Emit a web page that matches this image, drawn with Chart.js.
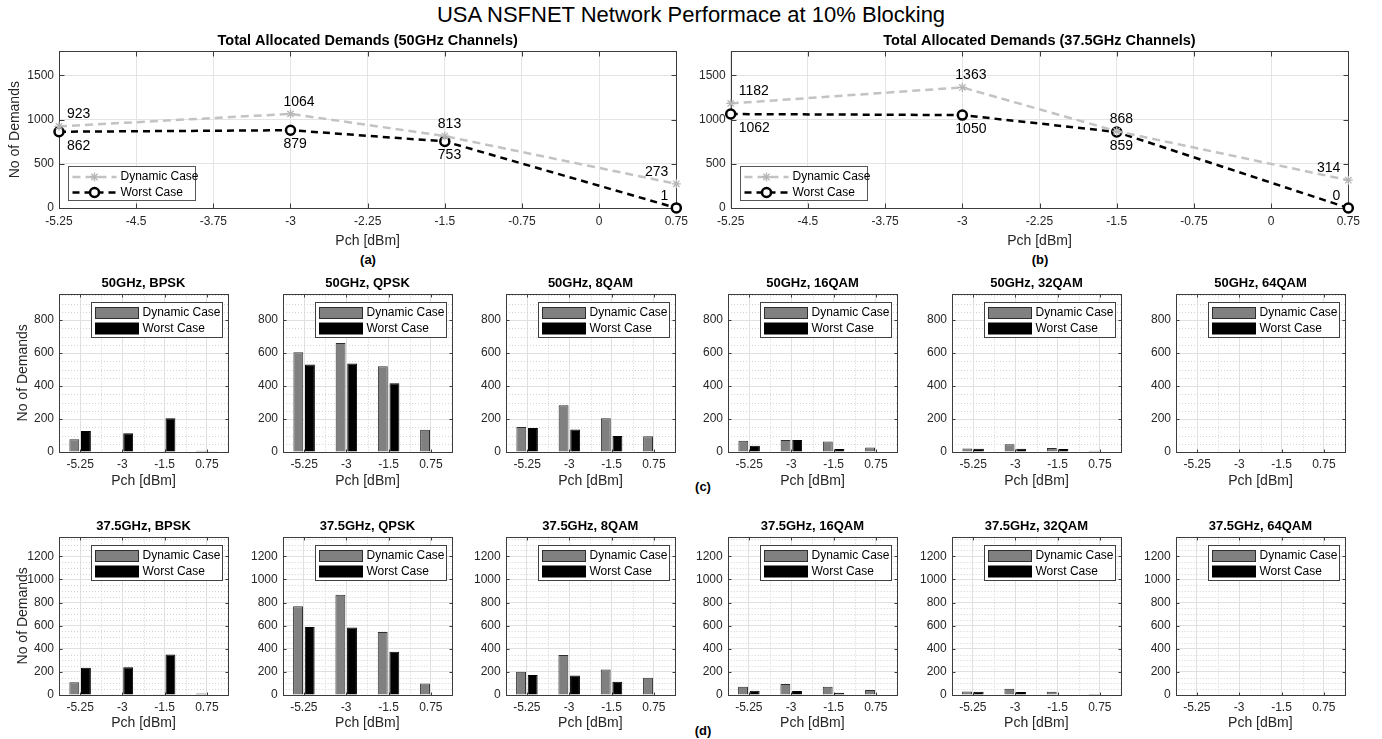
<!DOCTYPE html>
<html>
<head>
<meta charset="utf-8">
<title>USA NSFNET Network Performace at 10% Blocking</title>
<script src="https://cdn.jsdelivr.net/npm/chart.js@4.4.1/dist/chart.umd.min.js"></script>
<style>
  body { margin: 0; width: 1382px; height: 739px; background: #fff; position: relative; overflow: hidden;
         font-family: 'Liberation Sans', Arial, Helvetica, sans-serif; }
  canvas { position: absolute; }
  .lbl { position: absolute; transform: translate(-50%, -50%); white-space: nowrap; color: #000; }
  #mainTitle { left: 691px; top: 15px; font-size: 22px; }
  .panel { font-size: 13px; font-weight: bold; }
</style>
</head>
<body>
<div id="mainTitle" class="lbl">USA NSFNET Network Performace at 10% Blocking</div>
<div class="lbl panel" style="left:368px; top:259px">(a)</div>
<div class="lbl panel" style="left:1040px; top:259px">(b)</div>
<div class="lbl panel" style="left:703px; top:486px">(c)</div>
<div class="lbl panel" style="left:703px; top:730px">(d)</div>

<script>
// launch power points (x axis)
const pchValues = [-5.25, -3, -1.5, 0.75];
const pchLabels = ['-5.25', '-3', '-1.5', '0.75'];
const lineTicks = [-5.25, -4.5, -3.75, -3, -2.25, -1.5, -0.75, 0, 0.75];
const lineTickLabels = ['-5.25', '-4.5', '-3.75', '-3', '-2.25', '-1.5', '-0.75', '0', '0.75'];
const totalYTicks = [0, 500, 1000, 1500];
const barYTicks50 = [0, 200, 400, 600, 800];
const barYTicks375 = [0, 200, 400, 600, 800, 1000, 1200];

// total allocated demands
const total50Dynamic = [923, 1064, 813, 273];
const total50Worst = [862, 879, 753, 1];
const total375Dynamic = [1182, 1363, 868, 314];
const total375Worst = [1062, 1050, 859, 0];

// demands per modulation format, one row per format, values at -5.25, -3, -1.5, 0.75
const formats = ['BPSK', 'QPSK', '8QAM', '16QAM', '32QAM', '64QAM'];
const dyn50 = [
  [77, 1, 1, 7], [605, 660, 520, 135], [152, 284, 204, 95],
  [68, 72, 63, 28], [21, 47, 25, 8], [0, 0, 0, 0]
];
const worst50 = [
  [128, 113, 204, 1], [530, 537, 416, 0], [146, 137, 97, 0],
  [38, 72, 18, 0], [20, 20, 18, 0], [0, 0, 0, 0]
];
const dyn375 = [
  [110, 2, 2, 12], [768, 868, 545, 100], [202, 345, 220, 150],
  [72, 95, 72, 44], [30, 53, 29, 8], [0, 0, 0, 0]
];
const worst375 = [
  [236, 240, 350, 0], [588, 583, 375, 0], [174, 168, 115, 0],
  [36, 34, 19, 0], [28, 25, 0, 0], [0, 0, 0, 0]
];

Chart.defaults.font.family = "'Liberation Sans', Arial, Helvetica, sans-serif";
Chart.defaults.font.size = 12;
Chart.defaults.color = '#262626';

// plot boxes on the page
const topBoxes = [{ x: 59, y: 51, w: 617, h: 157 }, { x: 731, y: 51, w: 618, h: 157 }];
const barLefts = [59, 283, 506, 728, 952, 1176];
const barWidth = 169;

function strokeLine(ctx, x1, y1, x2, y2) {
  ctx.beginPath(); ctx.moveTo(x1, y1); ctx.lineTo(x2, y2); ctx.stroke();
}
const snap = v => Math.round(v) + 0.5;

// box, inward ticks and dotted minor grid
const framePlugin = {
  id: 'frame',
  beforeDatasetsDraw(chart, args, opts) {
    const { ctx, chartArea: a } = chart;
    const xs = chart.scales.x, ys = chart.scales.y;
    const xPix = xs.ticks.map((t, i) => xs.getPixelForTick(i));
    const yPix = ys.ticks.map((t, i) => ys.getPixelForTick(i));
    ctx.save();
    if (opts.minor) {
      ctx.strokeStyle = '#d2d2d2'; ctx.lineWidth = 1; ctx.setLineDash([1, 2]);
      for (let v = opts.minor; v < ys.max; v += opts.minor) {
        if (ys.ticks.some(t => t.value === v)) continue;
        const py = snap(ys.getPixelForValue(v));
        strokeLine(ctx, a.left, py, a.right, py);
      }
      for (let i = 1; i < xPix.length; i++) {
        const px = snap((xPix[i - 1] + xPix[i]) / 2);
        strokeLine(ctx, px, a.top, px, a.bottom);
      }
      ctx.setLineDash([]);
    }
    ctx.strokeStyle = '#3c3c3c'; ctx.lineWidth = 1;
    const L = snap(a.left), R = snap(a.right), T = snap(a.top), B = snap(a.bottom);
    ctx.strokeRect(L, T, R - L, B - T);
    const len = opts.tickLen || 4;
    xPix.forEach(p => { const px = snap(p); strokeLine(ctx, px, B, px, B - len); strokeLine(ctx, px, T, px, T + len); });
    yPix.forEach(p => { const py = snap(p); strokeLine(ctx, L, py, L + len, py); strokeLine(ctx, R, py, R - len, py); });
    ctx.restore();
  }
};

// numbers next to the points of the total charts
const valueLabelPlugin = {
  id: 'valueLabels',
  afterDatasetsDraw(chart) {
    const ctx = chart.ctx;
    ctx.save();
    ctx.font = "14px 'Liberation Sans', Arial, sans-serif";
    ctx.fillStyle = '#000';
    ctx.textBaseline = 'middle';
    chart.data.datasets.forEach((ds, di) => {
      const meta = chart.getDatasetMeta(di);
      meta.data.forEach((pt, i) => {
        const last = i === meta.data.length - 1;
        const above = di === 0 || last;
        const y = pt.y + (above ? -12 : 14);
        let x;
        if (i === 0) { ctx.textAlign = 'left'; x = pt.x + 8; }
        else if (last) { ctx.textAlign = 'right'; x = pt.x - 8; }
        else { ctx.textAlign = 'left'; x = pt.x - 7; }
        ctx.fillText(String(ds.data[i].y), x, y);
      });
    });
    ctx.restore();
  }
};

const lineLegendPlugin = {
  id: 'lineLegend',
  afterDraw(chart) {
    const { ctx, chartArea: a } = chart;
    const x0 = snap(a.left + 9), y0 = snap(a.bottom - 42), w = 127, h = 34;
    ctx.save();
    ctx.fillStyle = '#fff'; ctx.fillRect(x0, y0, w, h);
    ctx.strokeStyle = '#555'; ctx.lineWidth = 1; ctx.strokeRect(x0, y0, w, h);
    chart.data.datasets.forEach((ds, i) => {
      const yy = y0 + 10.5 + i * 15.5;
      ctx.strokeStyle = ds.borderColor; ctx.lineWidth = ds.borderWidth;
      ctx.setLineDash(ds.borderDash);
      strokeLine(ctx, x0 + 4, yy, x0 + 48, yy);
      ctx.setLineDash([]);
      ctx.fillStyle = ds.pointBackgroundColor; ctx.strokeStyle = ds.pointBorderColor;
      ctx.lineWidth = ds.pointBorderWidth;
      Chart.helpers.drawPoint(ctx, { pointStyle: ds.pointStyle, radius: ds.pointRadius, borderWidth: ds.pointBorderWidth, rotation: 0 }, x0 + 26, yy);
      ctx.fillStyle = '#000';
      ctx.font = "12px 'Liberation Sans', Arial, sans-serif";
      ctx.textAlign = 'left'; ctx.textBaseline = 'middle';
      ctx.fillText(ds.label, x0 + 52, yy);
    });
    ctx.restore();
  }
};

const barLegendPlugin = {
  id: 'barLegend',
  afterDraw(chart) {
    const { ctx, chartArea: a } = chart;
    const w = 131, h = 35;
    const x0 = snap(a.right - 6 - w), y0 = snap(a.top + 8);
    ctx.save();
    ctx.fillStyle = '#fff'; ctx.fillRect(x0, y0, w, h);
    ctx.strokeStyle = '#404040'; ctx.lineWidth = 1; ctx.strokeRect(x0, y0, w, h);
    chart.data.datasets.forEach((ds, i) => {
      const py = y0 + 5 + i * 15.5;
      ctx.fillStyle = ds.backgroundColor; ctx.fillRect(x0 + 4, py, 43, 11);
      ctx.strokeStyle = ds.borderColor; ctx.strokeRect(x0 + 4, py, 43, 11);
      ctx.fillStyle = '#000';
      ctx.font = "12px 'Liberation Sans', Arial, sans-serif";
      ctx.textAlign = 'left'; ctx.textBaseline = 'middle';
      ctx.fillText(ds.label, x0 + 51, py + 5.5);
    });
    ctx.restore();
  }
};

function makeCanvas(w, h) {
  const c = document.createElement('canvas');
  c.width = w; c.height = h;
  document.body.appendChild(c);
  return c;
}

// size and move the canvas so the plot area lands on the target box
function place(chart, box) {
  let a = chart.chartArea;
  chart.resize(Math.round(chart.width + box.w - (a.right - a.left)),
               Math.round(chart.height + box.h - (a.bottom - a.top)));
  a = chart.chartArea;
  chart.canvas.style.left = Math.round(box.x - a.left) + 'px';
  chart.canvas.style.top = Math.round(box.y - a.top) + 'px';
}

function setTicks(values) {
  return scale => { scale.ticks = values.map(v => ({ value: v })); };
}

function lineChart(box, title, dynamic, worst, showYTitle) {
  const pts = vals => pchValues.map((x, i) => ({ x: x, y: vals[i] }));
  const yScale = {
    min: 0, max: 1770,
    afterBuildTicks: setTicks(totalYTicks),
    ticks: { padding: 5, font: { size: 12 }, format: { useGrouping: false } },
    grid: { color: '#e4e4e4', drawTicks: false },
    border: { display: false },
    title: { display: showYTitle, text: 'No of Demands', font: { size: 14 }, padding: 0 }
  };
  if (showYTitle) yScale.afterFit = s => { s.width = 52; };
  const chart = new Chart(makeCanvas(720, 270), {
    type: 'line',
    data: {
      datasets: [
        { label: 'Dynamic Case', data: pts(dynamic), borderColor: '#c3c3c3', borderWidth: 2.5, borderDash: [8, 5],
          pointStyle: 'star', pointRadius: 4.5, pointBorderWidth: 1.3, pointBorderColor: '#b5b5b5',
          pointBackgroundColor: '#b5b5b5', clip: false, fill: false, tension: 0 },
        { label: 'Worst Case', data: pts(worst), borderColor: '#000', borderWidth: 2.5, borderDash: [7, 5],
          pointStyle: 'circle', pointRadius: 4.5, pointBorderWidth: 2.5, pointBorderColor: '#000',
          pointBackgroundColor: '#fff', clip: false, fill: false, tension: 0 }
      ]
    },
    options: {
      responsive: false, maintainAspectRatio: false, animation: false, events: [],
      layout: { padding: { top: 2, right: 6, bottom: 0, left: 0 } },
      plugins: {
        legend: { display: false }, tooltip: { enabled: false },
        title: { display: true, text: title, fullSize: false, color: '#000',
                 font: { size: 14.5, weight: 'bold' }, padding: { top: 2, bottom: 2 } },
        frame: { tickLen: 5 }
      },
      scales: {
        x: {
          type: 'linear', min: -5.25, max: 0.75,
          afterBuildTicks: setTicks(lineTicks),
          ticks: { callback: (v, i) => lineTickLabels[i], padding: 6, maxRotation: 0, autoSkip: false, font: { size: 12 } },
          grid: { color: '#e4e4e4', drawTicks: false },
          border: { display: false },
          title: { display: true, text: 'Pch [dBm]', font: { size: 14 }, padding: { top: 2, bottom: 0 } },
          afterFit: s => { s.height = 42; }
        },
        y: yScale
      }
    },
    plugins: [framePlugin, valueLabelPlugin, lineLegendPlugin]
  });
  place(chart, box);
}

function barChart(box, title, dynamic, worst, ymax, yTicks, showYTitle, xHeight) {
  const yScale = {
    min: 0, max: ymax,
    afterBuildTicks: setTicks(yTicks),
    ticks: { padding: 5, font: { size: 12 }, format: { useGrouping: false } },
    grid: { color: '#e0e0e0', drawTicks: false },
    border: { display: false },
    title: { display: showYTitle, text: 'No of Demands', font: { size: 14 }, padding: 0 }
  };
  if (showYTitle) yScale.afterFit = s => { s.width = 44; };
  const chart = new Chart(makeCanvas(240, 220), {
    type: 'bar',
    data: {
      labels: pchLabels,
      datasets: [
        { label: 'Dynamic Case', data: dynamic, backgroundColor: '#808080', borderColor: '#2e2e2e', borderWidth: 1,
          categoryPercentage: 0.55, barPercentage: 0.85 },
        { label: 'Worst Case', data: worst, backgroundColor: '#000000', borderColor: '#000000', borderWidth: 1,
          categoryPercentage: 0.55, barPercentage: 0.85 }
      ]
    },
    options: {
      responsive: false, maintainAspectRatio: false, animation: false, events: [],
      layout: { padding: { top: 2, right: 4, bottom: 0, left: 0 } },
      plugins: {
        legend: { display: false }, tooltip: { enabled: false },
        title: { display: true, text: title, fullSize: false, color: '#000',
                 font: { size: 13, weight: 'bold' }, padding: { top: 2, bottom: 2 } },
        frame: { tickLen: 3, minor: 50 }
      },
      scales: {
        x: {
          grid: { color: '#e0e0e0', offset: false, drawTicks: false },
          border: { display: false },
          ticks: { padding: 5, maxRotation: 0, autoSkip: false, font: { size: 12 } },
          title: { display: true, text: 'Pch [dBm]', font: { size: 14 }, padding: { top: 2, bottom: 0 } },
          afterFit: s => { s.height = xHeight; }
        },
        y: yScale
      }
    },
    plugins: [framePlugin, barLegendPlugin]
  });
  place(chart, box);
}

lineChart(topBoxes[0], 'Total Allocated Demands (50GHz Channels)', total50Dynamic, total50Worst, true);
lineChart(topBoxes[1], 'Total Allocated Demands (37.5GHz Channels)', total375Dynamic, total375Worst, false);

formats.forEach((f, i) => {
  barChart({ x: barLefts[i], y: 294, w: barWidth, h: 158 }, '50GHz, ' + f,
           dyn50[i], worst50[i], 960, barYTicks50, i === 0, 38);
  barChart({ x: barLefts[i], y: 537, w: barWidth, h: 158 }, '37.5GHz, ' + f,
           dyn375[i], worst375[i], 1370, barYTicks375, i === 0, 37);
});
</script>
</body>
</html>
